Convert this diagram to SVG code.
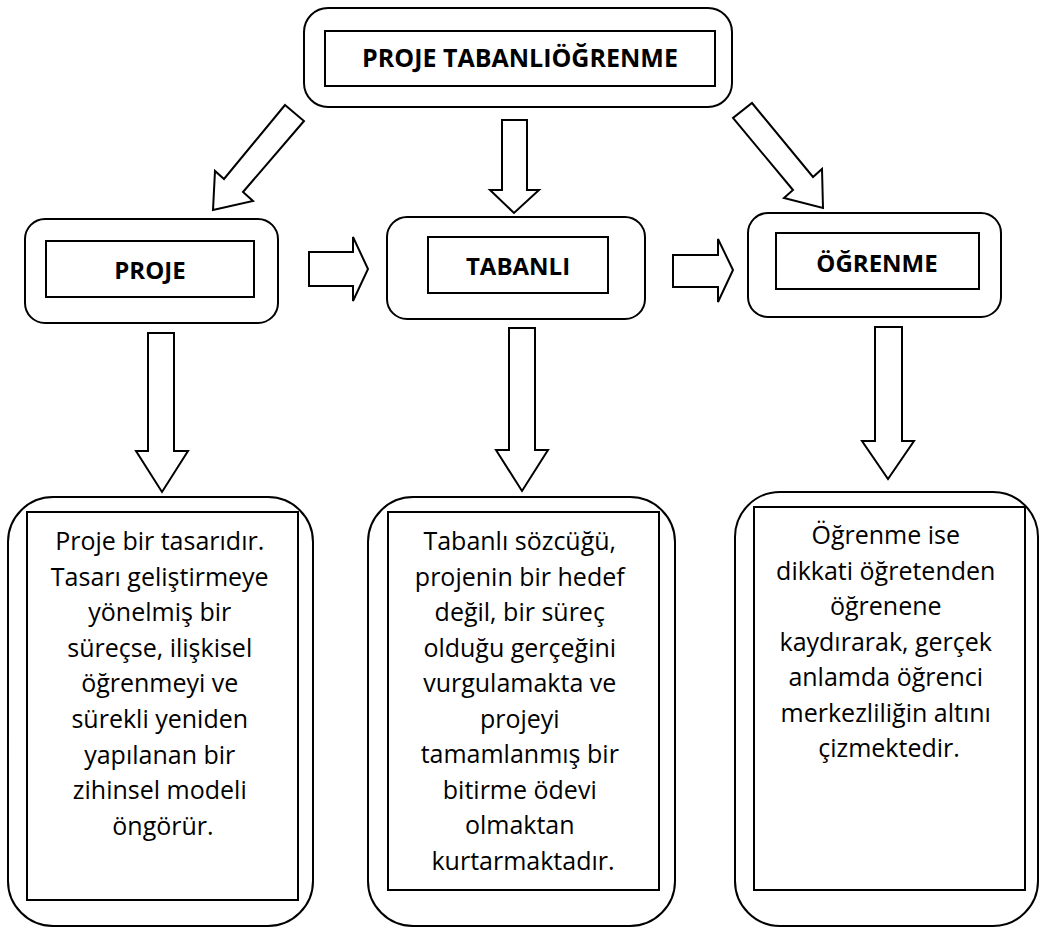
<svg xmlns="http://www.w3.org/2000/svg" width="1040" height="929" viewBox="0 0 1040 929">
<style>
.outer{fill:#fff;stroke:#000;stroke-width:2}
.inner{fill:#fff;stroke:#000;stroke-width:2}
.arrow{fill:#fff;stroke:#000;stroke-width:2;stroke-linejoin:miter}
.hdr{font-family:"Open Sans","Liberation Sans",sans-serif;font-weight:bold;font-size:24px;text-anchor:middle;fill:#000}
.title{font-size:25px}
.body{font-family:"Open Sans","Liberation Sans",sans-serif;font-size:25px;text-anchor:middle;fill:#000}
</style>
<rect width="1040" height="929" fill="#fff"/>
<g id="connectors">
<polygon class="arrow" points="285,105 304,121 243,192 253,201 213,210 215,171 224,179"/>
<polygon class="arrow" points="502,120 527,120 527,190 539,190 514,213 490,190 502,190"/>
<polygon class="arrow" points="752,103 813,177 822,169 823,208 784,198 793,190 733,118"/>
<polygon class="arrow" points="309,252 353,252 353,237 368,269 353,301 353,286 309,286"/>
<polygon class="arrow" points="673,255 718,255 718,239 733,270 718,302 718,287 673,287"/>
<polygon class="arrow" points="148,333 174,333 174,451 188,451 162,492 136,451 148,451"/>
<polygon class="arrow" points="509,328 535,328 535,450 548,450 522,491 496,450 509,450"/>
<polygon class="arrow" points="875,327 902,327 902,441 914,441 888,479 862,441 875,441"/>
</g>
<g id="node-top">
<rect class="outer" x="304" y="8" width="428" height="99" rx="24"/>
<rect class="inner" x="325" y="31" width="390" height="55"/>
<text class="hdr title" x="520" y="67">PROJE TABANLIÖĞRENME</text>
</g>
<g id="node-proje">
<rect class="outer" x="25" y="219" width="253" height="104" rx="20"/>
<rect class="inner" x="46" y="241" width="208" height="56"/>
<text class="hdr" x="150" y="279">PROJE</text>
</g>
<g id="node-tabanli">
<rect class="outer" x="387" y="217" width="258" height="102" rx="20"/>
<rect class="inner" x="428" y="237" width="180" height="56"/>
<text class="hdr" x="518" y="275">TABANLI</text>
</g>
<g id="node-ogrenme">
<rect class="outer" x="748" y="213" width="253" height="104" rx="20"/>
<rect class="inner" x="776" y="233" width="203" height="56"/>
<text class="hdr" x="877" y="272">ÖĞRENME</text>
</g>
<g id="node-proje-desc">
<rect class="outer" x="8" y="497" width="305" height="429" rx="45"/>
<rect class="inner" x="27" y="512" width="271" height="388"/>
<text class="body" x="163" y="550">
<tspan x="163" dy="0">Proje bir tasarıdır.</tspan>
<tspan x="163" dy="35.6">Tasarı geliştirmeye</tspan>
<tspan x="163" dy="35.6">yönelmiş bir</tspan>
<tspan x="163" dy="35.6">süreçse, ilişkisel</tspan>
<tspan x="163" dy="35.6">öğrenmeyi ve</tspan>
<tspan x="163" dy="35.6">sürekli yeniden</tspan>
<tspan x="163" dy="35.6">yapılanan bir</tspan>
<tspan x="163" dy="35.6">zihinsel modeli</tspan>
<tspan x="163" dy="35.6">öngörür.</tspan>
</text>
</g>
<g id="node-tabanli-desc">
<rect class="outer" x="368" y="497" width="307" height="429" rx="45"/>
<rect class="inner" x="388" y="512" width="271" height="378"/>
<text class="body" x="523" y="550">
<tspan x="523" dy="0">Tabanlı sözcüğü,</tspan>
<tspan x="523" dy="35.5">projenin bir hedef</tspan>
<tspan x="523" dy="35.5">değil, bir süreç</tspan>
<tspan x="523" dy="35.5">olduğu gerçeğini</tspan>
<tspan x="523" dy="35.5">vurgulamakta ve</tspan>
<tspan x="523" dy="35.5">projeyi</tspan>
<tspan x="523" dy="35.5">tamamlanmış bir</tspan>
<tspan x="523" dy="35.5">bitirme ödevi</tspan>
<tspan x="523" dy="35.5">olmaktan</tspan>
<tspan x="523" dy="35.5">kurtarmaktadır.</tspan>
</text>
</g>
<g id="node-ogrenme-desc">
<rect class="outer" x="735" y="492" width="303" height="434" rx="45"/>
<rect class="inner" x="754" y="507" width="271" height="383"/>
<text class="body" x="889" y="544">
<tspan x="889" dy="0">Öğrenme ise</tspan>
<tspan x="889" dy="35.5">dikkati öğretenden</tspan>
<tspan x="889" dy="35.5">öğrenene</tspan>
<tspan x="889" dy="35.5">kaydırarak, gerçek</tspan>
<tspan x="889" dy="35.5">anlamda öğrenci</tspan>
<tspan x="889" dy="35.5">merkezliliğin altını</tspan>
<tspan x="889" dy="35.5">çizmektedir.</tspan>
</text>
</g>
</svg>
